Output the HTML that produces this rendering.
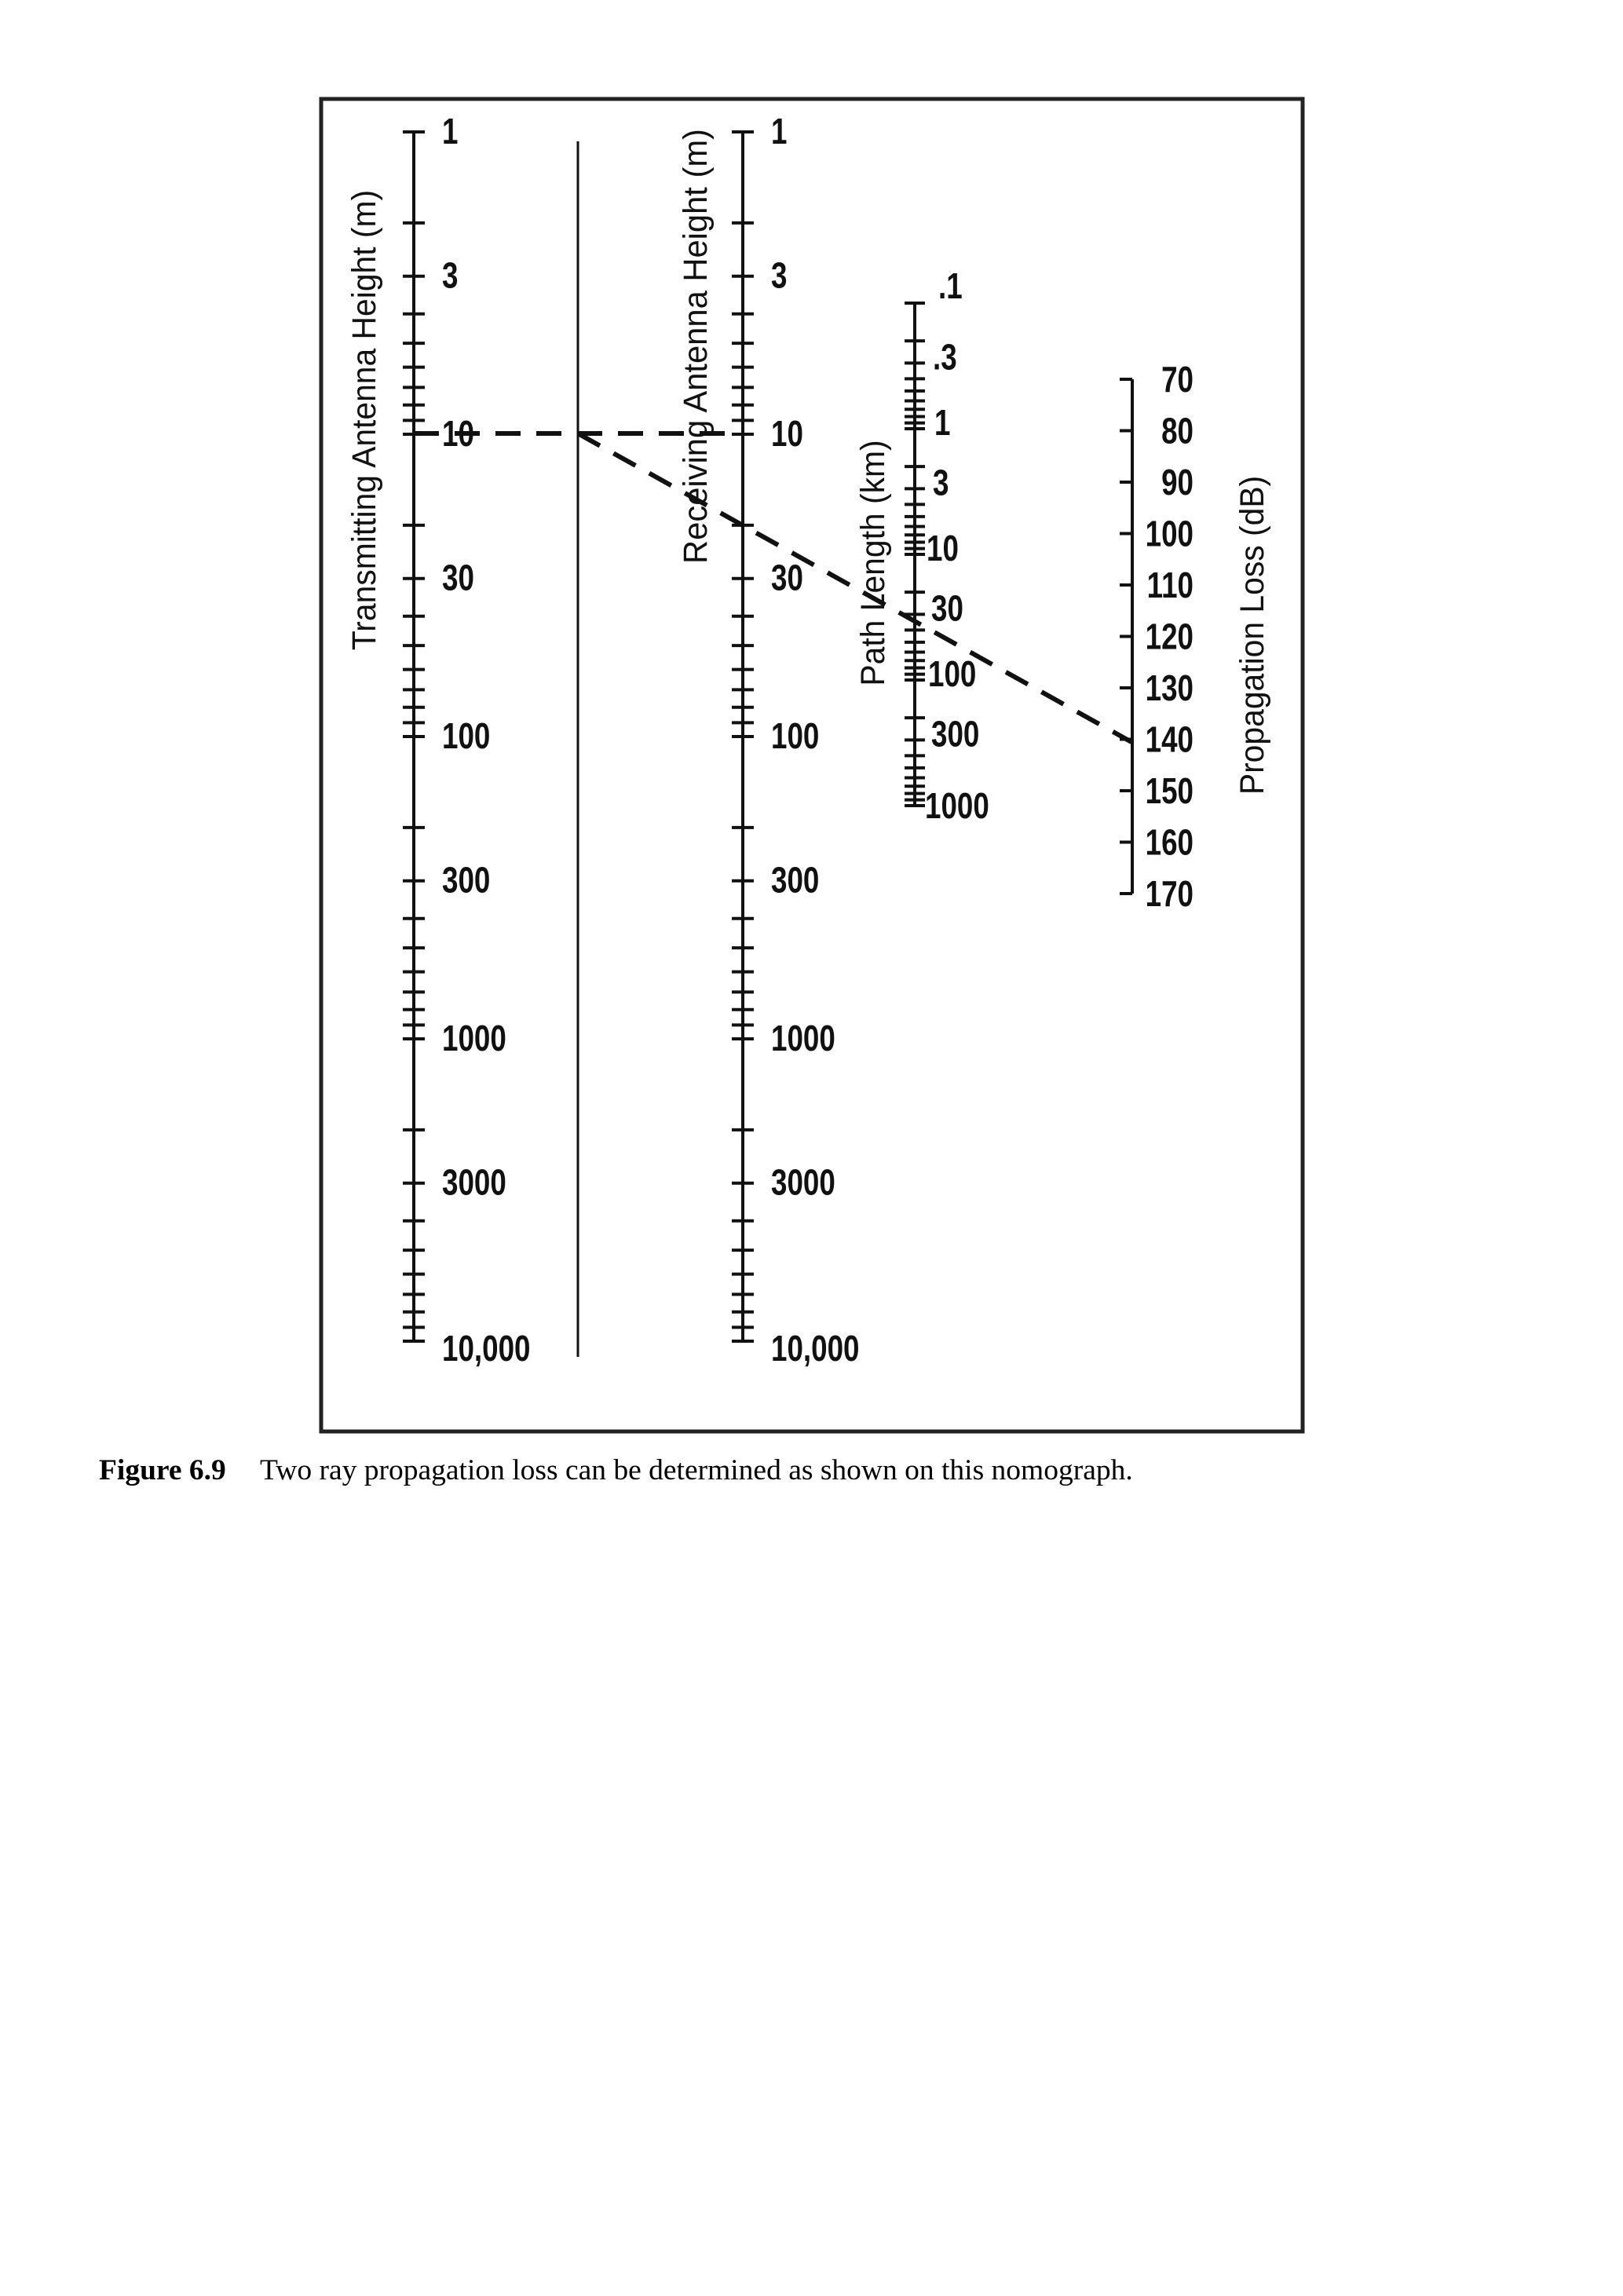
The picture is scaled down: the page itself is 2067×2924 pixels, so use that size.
<!DOCTYPE html>
<html><head><meta charset="utf-8"><style>
html,body{margin:0;padding:0;background:#fff;}
svg{display:block;}
.lb{font-family:"Liberation Sans Narrow","Liberation Sans",sans-serif;font-weight:bold;font-size:46px;fill:#111;}
.tt{font-family:"Liberation Sans Narrow","Liberation Sans",sans-serif;font-size:43px;fill:#111;}
.cap{font-family:"Liberation Serif",serif;font-size:37.5px;fill:#000;}
</style></head><body>
<svg width="2067" height="2924" viewBox="0 0 2067 2924" xmlns="http://www.w3.org/2000/svg">
<rect x="0" y="0" width="2067" height="2924" fill="#fff"/>
<rect x="409" y="126" width="1250" height="1697" fill="none" stroke="#222" stroke-width="5"/>
<g id="axes" stroke="#111" stroke-width="4" fill="none"></g>
<line x1="736" y1="180" x2="736" y2="1728" stroke="#111" stroke-width="3"/>
<g stroke="#111" stroke-width="6" stroke-dasharray="32,20" fill="none">
<line x1="527" y1="552" x2="942" y2="552"/>
<line x1="736" y1="552" x2="1441" y2="945"/>
</g>
<g id="labels"></g>
<text class="tt" transform="translate(478,535) rotate(-90) scale(0.95,1)" text-anchor="middle">Transmitting  Antenna Height (m)</text>
<text class="tt" transform="translate(900,441) rotate(-90) scale(0.97,1)" text-anchor="middle">Receiving Antenna Height (m)</text>
<text class="tt" transform="translate(1126,717) rotate(-90) scale(0.95,1)" text-anchor="middle">Path Length (km)</text>
<text class="tt" transform="translate(1609,809) rotate(-90) scale(0.95,1)" text-anchor="middle">Propagation Loss (dB)</text>
<text class="cap" x="126" y="1884"><tspan font-weight="bold">Figure 6.9</tspan><tspan x="331">Two ray propagation loss can be determined as shown on this nomograph.</tspan></text>
</svg>
<script>
(function(){
var NS="http://www.w3.org/2000/svg";
var ax=document.getElementById("axes"),lb=document.getElementById("labels");
function L(x1,y1,x2,y2){var l=document.createElementNS(NS,"line");l.setAttribute("x1",x1);l.setAttribute("y1",y1);l.setAttribute("x2",x2);l.setAttribute("y2",y2);ax.appendChild(l);}
function T(x,y,s,anchor){var t=document.createElementNS(NS,"text");t.setAttribute("class","lb");t.setAttribute("x",0);t.setAttribute("y",0);t.setAttribute("transform","translate("+x+","+y+") scale(0.8,1)");if(anchor)t.setAttribute("text-anchor",anchor);t.textContent=s;lb.appendChild(t);}
[527,946].forEach(function(x){
  var y0=168,dec=385;
  L(x,y0,x,y0+4*dec);
  for(var d=0;d<4;d++){for(var m=1;m<=9;m++){var y=y0+(d+Math.log10(m))*dec;L(x-14,y,x+14,y);}}
  L(x-14,y0+4*dec,x+14,y0+4*dec);
  var labs=[[1,"1"],[3,"3"],[10,"10"],[30,"30"],[100,"100"],[300,"300"],[1000,"1000"],[3000,"3000"],[10000,"10,000"]];
  labs.forEach(function(a){var y=y0+Math.log10(a[0])*dec;if(a[0]==10000)y+=10;T(x+36,y+15,a[1]);});
});
var px=1165,p0=386,pd=160;
L(px,p0,px,p0+4*pd);
for(var d=0;d<4;d++){for(var m=1;m<=9;m++){var y=p0+(d+Math.log10(m))*pd;L(px-13,y,px+13,y);}}
L(px-13,p0+4*pd,px+13,p0+4*pd);
[[0.1,".1",1195],[0.3,".3",1188],[1,"1",1190],[3,"3",1188],[10,"10",1180],[30,"30",1186],[100,"100",1182],[300,"300",1186],[1000,"1000",1178]].forEach(function(a){
  var y=p0+(Math.log10(a[0])+1)*pd; var dy=8;
  if(a[0]==0.1)dy=-6; if(a[0]==1000)dy=16;
  T(a[2],y+dy,a[1]);
});
var lx=1442,l0=483,ld=65.5;
L(lx,l0,lx,l0+10*ld);
for(var i=0;i<=10;i++){var y=l0+i*ld;L(lx-16,y,lx,y);T(1520,y+16,String(70+10*i),"end");}
})();
</script>
</body></html>
